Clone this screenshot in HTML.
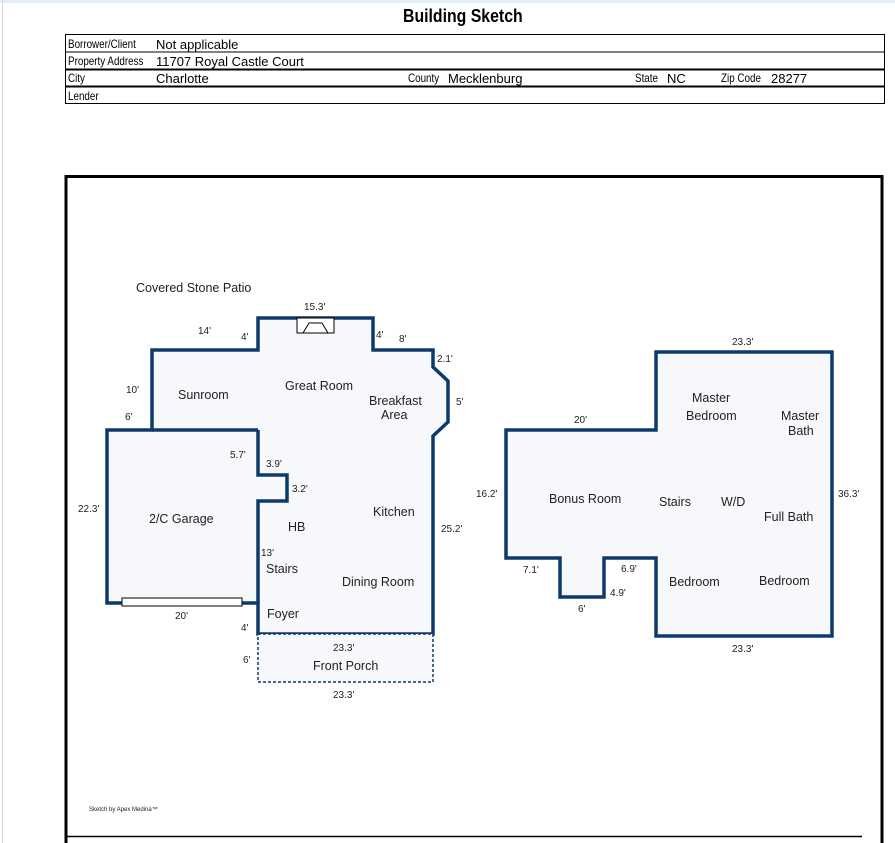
<!DOCTYPE html>
<html><head><meta charset="utf-8"><style>
body{margin:0;width:895px;height:843px;background:#fff;position:relative;overflow:hidden;font-family:"Liberation Sans",Arial,sans-serif}
.t{position:absolute;white-space:nowrap}
.n{font-size:12px;transform-origin:0 0;transform:scaleX(0.82);color:#000}
</style></head><body>
<div style="position:absolute;left:0;top:0;width:895px;height:3px;background:#e3eef8"></div>
<div style="position:absolute;left:2px;top:0;width:1px;height:843px;background:#d8d8d8"></div>
<div class="t" style="left:403px;top:6px;font-size:18px;font-weight:bold;transform-origin:0 0;transform:scaleX(0.88)">Building Sketch</div>
<svg width="895" height="843" style="position:absolute;left:0;top:0" font-family="Liberation Sans, Arial, sans-serif">
<g stroke="#000" fill="none">
<rect x="65.5" y="34.5" width="819" height="69" stroke-width="1"/>
<line x1="65" y1="52" x2="884" y2="52" stroke-width="1"/>
<line x1="65" y1="69.5" x2="884" y2="69.5" stroke-width="2"/>
<line x1="65" y1="86.5" x2="884" y2="86.5" stroke-width="2"/>
<path d="M66 843 V176.5 H882 V843" stroke-width="3"/>
<line x1="66" y1="836.5" x2="862" y2="836.5" stroke-width="1.5"/>
</g>
<g stroke="#0d3a6b" stroke-width="3.5" fill="#f6f8fb" stroke-linejoin="miter">
<path d="M258 318 H373 V350 H433 V367 L448 381 V422 L433 436 V634 H258 V603 H107 V430 H152 V350 H258 Z"/>
<path d="M258 430 H152" fill="none"/>
<path d="M258 430 V475 H287 V501 H258 V603" fill="none"/>
<path d="M656 352 H832 V636 H656 V558 H604 V597 H560 V558 H506 V430 H656 Z"/>
</g>
<rect x="258" y="634" width="175" height="48" fill="#f6f8fb" stroke="#0d3a6b" stroke-width="1.5" stroke-dasharray="3,2"/>
<rect x="122" y="598" width="120" height="8" fill="#fff" stroke="#000" stroke-width="1"/>
<rect x="297" y="318" width="37" height="15" fill="#fff" stroke="#000" stroke-width="1"/>
<path d="M303 333 L309 323 H322 L328 333" fill="none" stroke="#000" stroke-width="1"/>
<g font-size="12.5" fill="#222">
<text x="136" y="292">Covered Stone Patio</text>
<text x="178" y="399">Sunroom</text>
<text x="285" y="390">Great Room</text>
<text x="369" y="405">Breakfast</text>
<text x="381" y="419">Area</text>
<text x="149" y="523">2/C Garage</text>
<text x="373" y="516">Kitchen</text>
<text x="288" y="531">HB</text>
<text x="266" y="573">Stairs</text>
<text x="342" y="586">Dining Room</text>
<text x="267" y="618">Foyer</text>
<text x="313" y="670">Front Porch</text>
<text x="692" y="402">Master</text>
<text x="686" y="420">Bedroom</text>
<text x="781" y="420">Master</text>
<text x="788" y="435">Bath</text>
<text x="549" y="503">Bonus Room</text>
<text x="659" y="506">Stairs</text>
<text x="721" y="506">W/D</text>
<text x="764" y="521">Full Bath</text>
<text x="669" y="586">Bedroom</text>
<text x="759" y="585">Bedroom</text>
</g>
<g font-size="10" fill="#222">
<text x="304" y="310">15.3'</text>
<text x="198" y="334">14'</text>
<text x="241" y="340">4'</text>
<text x="376" y="338">4'</text>
<text x="399" y="342">8'</text>
<text x="437" y="362">2.1'</text>
<text x="456" y="405">5'</text>
<text x="126" y="393">10'</text>
<text x="125" y="420">6'</text>
<text x="230" y="458">5.7'</text>
<text x="266" y="467">3.9'</text>
<text x="292" y="492">3.2'</text>
<text x="78" y="512">22.3'</text>
<text x="441" y="532">25.2'</text>
<text x="261" y="556">13'</text>
<text x="175" y="619">20'</text>
<text x="241" y="631">4'</text>
<text x="333" y="651">23.3'</text>
<text x="243" y="663">6'</text>
<text x="333" y="698">23.3'</text>
<text x="732" y="345">23.3'</text>
<text x="574" y="423">20'</text>
<text x="476" y="497">16.2'</text>
<text x="838" y="497">36.3'</text>
<text x="523" y="573">7.1'</text>
<text x="621" y="572">6.9'</text>
<text x="610" y="596">4.9'</text>
<text x="578" y="612">6'</text>
<text x="732" y="652">23.3'</text>
</g>
<text x="89" y="811" font-size="6" fill="#222">Sketch by Apex Medina™</text>
</svg>
<div class="t n" style="left:68px;top:37px">Borrower/Client</div>
<div class="t n" style="left:156px;top:37px;font-size:13px;transform:none">Not applicable</div>
<div class="t n" style="left:68px;top:54px">Property Address</div>
<div class="t n" style="left:156px;top:54px;font-size:13px;transform:none">11707 Royal Castle Court</div>
<div class="t n" style="left:68px;top:71px">City</div>
<div class="t n" style="left:156px;top:71px;font-size:13px;transform:none">Charlotte</div>
<div class="t n" style="left:408px;top:71px">County</div>
<div class="t n" style="left:448px;top:71px;font-size:13px;transform:none">Mecklenburg</div>
<div class="t n" style="left:635px;top:71px">State</div>
<div class="t n" style="left:667px;top:71px;font-size:13px;transform:none">NC</div>
<div class="t n" style="left:721px;top:71px">Zip Code</div>
<div class="t n" style="left:771px;top:71px;font-size:13px;transform:none">28277</div>
<div class="t n" style="left:68px;top:89px">Lender</div>
</body></html>
